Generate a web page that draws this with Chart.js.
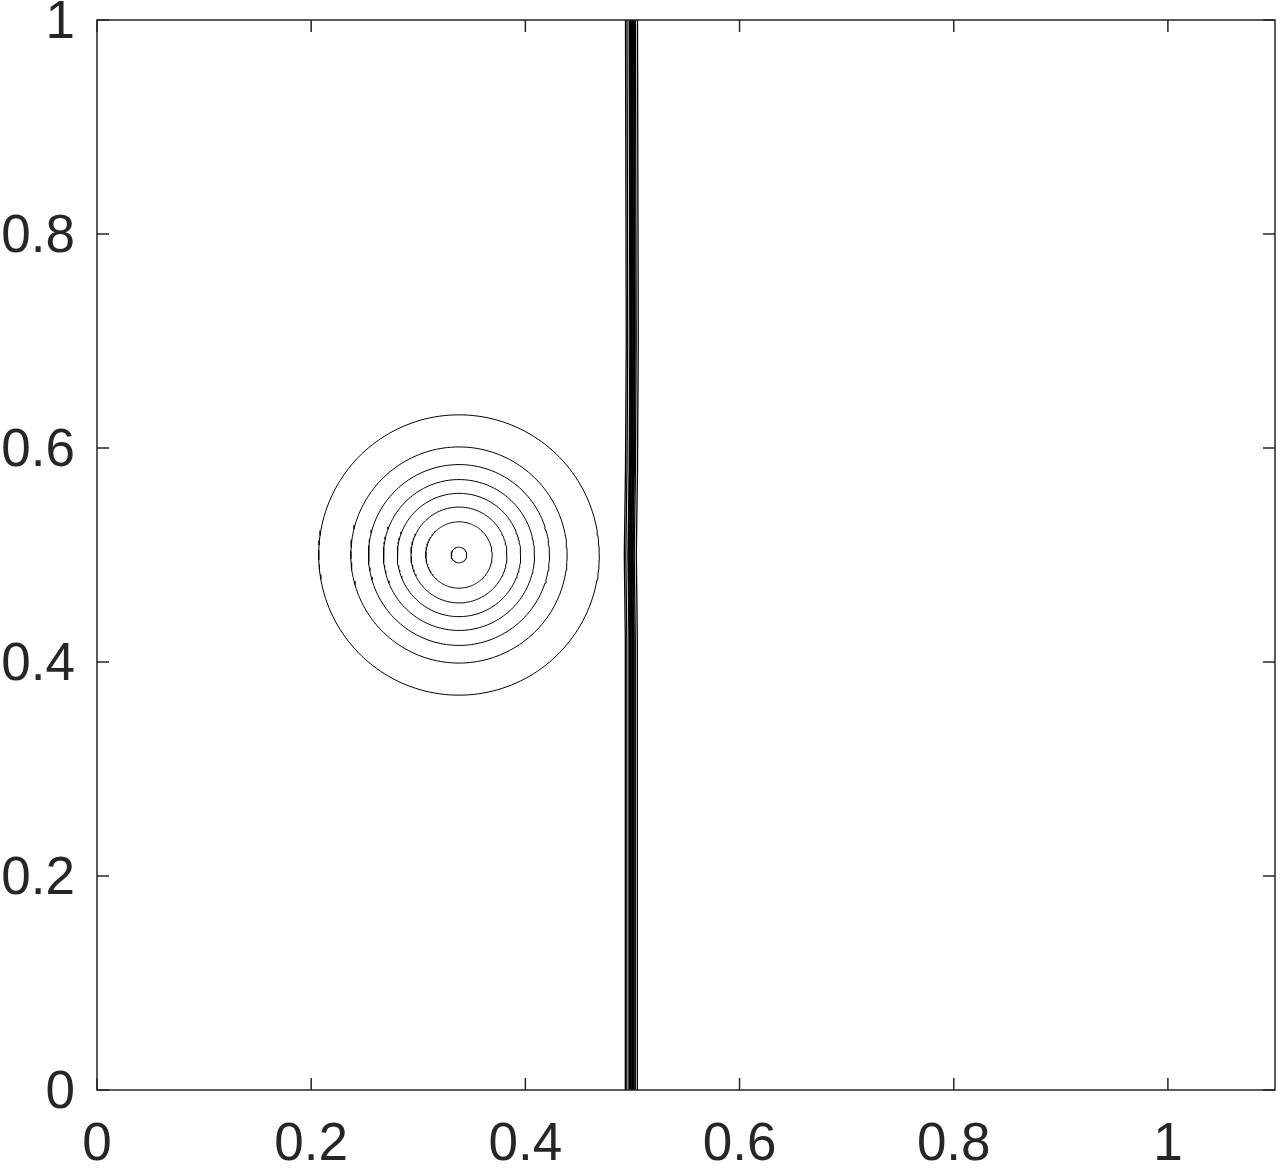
<!DOCTYPE html>
<html lang="en">
<head>
    <meta charset="UTF-8">
    <title>contour</title>
    <script src="https://cdn.jsdelivr.net/npm/chart.js"></script>
<style>
    body{margin:0; background:#fff;}
    #wrap{width:1284px; height:1174px;}
</style>
</head>
<body>
    <div id="wrap">
        <canvas id="myChart"></canvas>
    </div>
    <script>
        // axis ticks
        let xTicks = [0, 0.2, 0.4, 0.6, 0.8, 1];
        let yTicks = [0, 0.2, 0.4, 0.6, 0.8, 1];

        // circular contours (bubble), center + radii
        let bubbleCenter = [0.338, 0.5];
        let bubbleRadii = [0.131, 0.101, 0.0845, 0.0705, 0.0576, 0.0448, 0.031, 0.0073];

        // shock contour lines: x position at each y level
        let shockY = [0, 0.33, 0.42, 0.5, 0.58, 0.7, 1];
        let shock1 = [0.4935, 0.4935, 0.4932, 0.4924, 0.4935, 0.4942, 0.4935];
        let shock2 = [0.4949, 0.4949, 0.4946, 0.4938, 0.4949, 0.4956, 0.4949];
        let shock3 = [0.4972, 0.4972, 0.4969, 0.4961, 0.4972, 0.4979, 0.4972];
        let shock4 = [0.4986, 0.4986, 0.4983, 0.4975, 0.4986, 0.4993, 0.4986];
        let shock5 = [0.5000, 0.5000, 0.4997, 0.4989, 0.5000, 0.5007, 0.5000];
        let shock6 = [0.5014, 0.5014, 0.5011, 0.5003, 0.5014, 0.5021, 0.5014];
        let shock7 = [0.5028, 0.5028, 0.5025, 0.5017, 0.5028, 0.5035, 0.5028];
        let shock8 = [0.5047, 0.5047, 0.5044, 0.5036, 0.5047, 0.5054, 0.5047];
        let shockLines = [shock1, shock2, shock3, shock4, shock5, shock6, shock7, shock8];

        const axisColor = '#262626';
        const datasets = [];

        bubbleRadii.forEach(function(r){
            let pts = [];
            for(let i=0;i<=180;i++){
                let a = i/180*2*Math.PI;
                pts.push({x: bubbleCenter[0] + r*Math.cos(a), y: bubbleCenter[1] + r*Math.sin(a)});
            }
            datasets.push({data: pts, showLine: true, borderColor: '#000', borderWidth: 1, pointRadius: 0, tension: 0});
        });

        shockLines.forEach(function(xs, k){
            let pts = xs.map(function(x, i){ return {x: x, y: shockY[i]}; });
            // inner lines of the bundle look heavier
            let w = (k >= 2 && k <= 5) ? 2 : 1.3;
            datasets.push({data: pts, showLine: true, borderColor: '#000', borderWidth: w, pointRadius: 0, tension: 0});
        });

        // box + inward tick marks on all four sides
        const boxPlugin = {
            id: 'box',
            afterDraw(chart){
                const c = chart.ctx, a = chart.chartArea;
                const xs = chart.scales.x, ys = chart.scales.y;
                const len = 12;
                c.save();
                c.strokeStyle = axisColor;
                c.lineWidth = 1.5;
                c.beginPath();
                xTicks.forEach(function(v){
                    let px = xs.getPixelForValue(v);
                    c.moveTo(px, a.bottom); c.lineTo(px, a.bottom - len);
                    c.moveTo(px, a.top); c.lineTo(px, a.top + len);
                });
                yTicks.forEach(function(v){
                    let py = ys.getPixelForValue(v);
                    c.moveTo(a.left, py); c.lineTo(a.left + len, py);
                    c.moveTo(a.right, py); c.lineTo(a.right - len, py);
                });
                c.stroke();
                c.strokeRect(a.left, a.top, a.right - a.left, a.bottom - a.top);
                c.restore();
            }
        };

        const tickFont = {family: '"Liberation Sans", Arial, sans-serif', size: 53};

        new Chart(document.getElementById('myChart'), {
            type: 'scatter',
            data: {datasets: datasets},
            plugins: [boxPlugin],
            options: {
                responsive: true,
                maintainAspectRatio: false,
                animation: false,
                layout: {padding: {top: 20, right: 9, left: 0, bottom: 0}},
                plugins: {legend: {display: false}, tooltip: {enabled: false}},
                scales: {
                    x: {
                        type: 'linear', min: 0, max: 1.1,
                        afterBuildTicks: function(s){ s.ticks = xTicks.map(function(v){ return {value: v}; }); },
                        afterFit: function(s){ s.height = 84; s.paddingRight = 0; },
                        grid: {display: false, drawTicks: false},
                        border: {display: false},
                        ticks: {color: axisColor, font: tickFont, padding: 24, maxRotation: 0,
                            callback: function(v){ return String(v); }}
                    },
                    y: {
                        type: 'linear', min: 0, max: 1,
                        afterBuildTicks: function(s){ s.ticks = yTicks.map(function(v){ return {value: v}; }); },
                        afterFit: function(s){ s.width = 97; s.paddingTop = 0; s.paddingBottom = 0; },
                        grid: {display: false, drawTicks: false},
                        border: {display: false},
                        ticks: {color: axisColor, font: tickFont, padding: 22, labelOffset: 3,
                            callback: function(v){ return String(v); }}
                    }
                }
            }
        });
    </script>
</body>
</html>
